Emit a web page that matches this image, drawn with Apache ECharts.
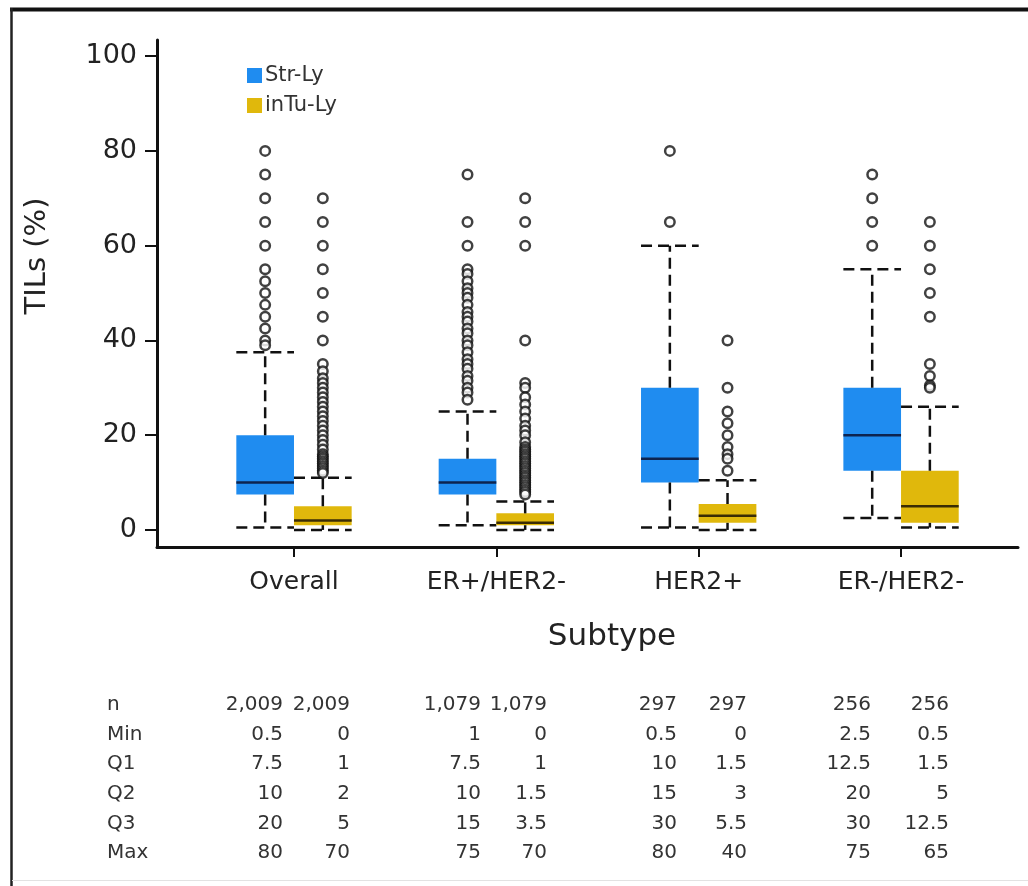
<!DOCTYPE html>
<html>
<head>
<meta charset="utf-8">
<title>TILs by subtype</title>
<script src="https://cdn.jsdelivr.net/npm/echarts@6/dist/echarts.min.js"></script>
<style>
  html, body { margin: 0; padding: 0; background: #fff; }
  #chart { width: 1028px; height: 886px; }
</style>
</head>
<body>
<div id="chart"></div>
<script>
// x axis groups
var subtypes = ['Overall', 'ER+/HER2-', 'HER2+', 'ER-/HER2-'];
var seriesNames = ['Str-Ly', 'inTu-Ly'];

// summary table, one value per subtype
var strN   = [2009, 1079, 297, 256];
var strMin = [0.5, 1, 0.5, 2.5];
var strQ1  = [7.5, 7.5, 10, 12.5];
var strQ2  = [10, 10, 15, 20];
var strQ3  = [20, 15, 30, 30];
var strMax = [80, 75, 80, 75];

var tuN   = [2009, 1079, 297, 256];
var tuMin = [0, 0, 0, 0.5];
var tuQ1  = [1, 1, 1.5, 1.5];
var tuQ2  = [2, 1.5, 3, 5];
var tuQ3  = [5, 3.5, 5.5, 12.5];
var tuMax = [70, 70, 40, 65];

// top of the upper whisker
var strUpper = [37.5, 25, 60, 55];
var tuUpper  = [11, 6, 10.5, 26];

// outliers
var strOutliers = [
  [80, 75, 70, 65, 60, 55, 52.5, 50, 47.5, 45, 42.5, 40, 39],
  [75, 65, 60, 55, 54, 52.5, 51, 50, 49, 47.5, 46, 45, 44, 42.5, 41.5, 40, 39, 37.5, 36, 35, 34, 32.5, 31.5, 30, 29, 27.5],
  [80, 65],
  [75, 70, 65, 60]
];
var tuOutliers = [
  [70, 65, 60, 55, 50, 45, 40, 35, 33.5, 32, 31, 30, 29, 28, 27, 26, 25, 24, 23, 22, 21, 20, 19, 18, 17, 16, 15.5, 15, 14.5, 14, 13.5, 13, 12.5, 12],
  [70, 65, 60, 40, 31, 30, 28, 26.5, 25, 23.5, 22, 21, 20, 18.5, 17.5, 17, 16.5, 16, 15.5, 15, 14.5, 14, 13.5, 13, 12.5, 12, 11.5, 11, 10.5, 10, 9.5, 9, 8.5, 8, 7.5],
  [40, 30, 25, 22.5, 20, 17.5, 16, 15, 12.5],
  [65, 60, 55, 50, 45, 35, 32.5, 30.5, 30]
];

var yTicks = [0, 20, 40, 60, 80, 100];
var groupTicks = [1, 2, 3, 4];

var BLUE = '#1f8cf0';
var GOLD = '#e0b80c';
var FONT = 'DejaVu Sans';
var BOX_W = 0.285; // box width in x-axis units

function boxRows(min, q1, q2, q3, upper) {
  return subtypes.map(function (s, i) {
    return [i + 1, min[i], q1[i], q2[i], q3[i], upper[i]];
  });
}

function outlierPoints(list, shift) {
  var pts = [];
  list.forEach(function (vals, i) {
    vals.forEach(function (v) { pts.push([i + 1 + shift, v]); });
  });
  return pts;
}

// side: -1 box left of the tick, 1 box right of it
function makeBox(side, fill, medColor) {
  return function (params, api) {
    var c = api.value(0);
    var x0 = side < 0 ? c - BOX_W : c;
    var x1 = x0 + BOX_W;
    var xm = (x0 + x1) / 2;
    var tl = api.coord([x0, api.value(4)]);
    var br = api.coord([x1, api.value(2)]);
    var med = api.coord([x0, api.value(3)]);
    var medR = api.coord([x1, api.value(3)]);
    var lo = api.coord([xm, api.value(1)]);
    var q1 = api.coord([xm, api.value(2)]);
    var q3 = api.coord([xm, api.value(4)]);
    var hi = api.coord([xm, api.value(5)]);
    var dash = { stroke: '#111', lineWidth: 2.5, lineDash: [11, 6] };
    return {
      type: 'group',
      children: [
        { type: 'rect', shape: { x: tl[0], y: tl[1], width: br[0] - tl[0], height: br[1] - tl[1] }, style: { fill: fill } },
        { type: 'line', shape: { x1: med[0], y1: med[1], x2: medR[0], y2: medR[1] }, style: { stroke: medColor, lineWidth: 2.5 } },
        { type: 'line', shape: { x1: q3[0], y1: q3[1], x2: hi[0], y2: hi[1] }, style: dash },
        { type: 'line', shape: { x1: q1[0], y1: q1[1], x2: lo[0], y2: lo[1] }, style: dash },
        { type: 'line', shape: { x1: tl[0], y1: hi[1], x2: br[0], y2: hi[1] }, style: dash },
        { type: 'line', shape: { x1: tl[0], y1: lo[1], x2: br[0], y2: lo[1] }, style: dash }
      ]
    };
  };
}

// table under the chart
var tableRows = [
  ['n', strN, tuN],
  ['Min', strMin, tuMin],
  ['Q1', strQ1, tuQ1],
  ['Q2', strQ2, tuQ2],
  ['Q3', strQ3, tuQ3],
  ['Max', strMax, tuMax]
];
var strCols = [283, 481, 677, 871];
var tuCols = [350, 547, 747, 949];

function fmt(v, row) {
  return row === 0 ? v.toLocaleString('en-US') : String(v);
}

var graphics = [
  { type: 'line', shape: { x1: 10, y1: 9.5, x2: 1028, y2: 9.5 }, style: { stroke: '#111', lineWidth: 4 } },
  { type: 'line', shape: { x1: 11.5, y1: 8, x2: 11.5, y2: 886 }, style: { stroke: '#222', lineWidth: 2.5 } },
  { type: 'line', shape: { x1: 12, y1: 880.5, x2: 1028, y2: 880.5 }, style: { stroke: '#e2e2e2', lineWidth: 1 } },
  { type: 'text', x: 37, y: 256, rotation: Math.PI / 2,
    style: { text: 'TILs (%)', fontSize: 29, fontFamily: FONT, fill: '#222', align: 'center', verticalAlign: 'middle' } },
  { type: 'text', x: 612, y: 637,
    style: { text: 'Subtype', fontSize: 31, fontFamily: FONT, fill: '#222', align: 'center', verticalAlign: 'middle' } }
];
tableRows.forEach(function (row, r) {
  var y = 705 + r * 29.6;
  graphics.push({ type: 'text', x: 107, y: y,
    style: { text: row[0], fontSize: 20, fontFamily: FONT, fill: '#333', align: 'left', verticalAlign: 'middle' } });
  subtypes.forEach(function (s, i) {
    graphics.push({ type: 'text', x: strCols[i], y: y,
      style: { text: fmt(row[1][i], r), fontSize: 20, fontFamily: FONT, fill: '#333', align: 'right', verticalAlign: 'middle' } });
    graphics.push({ type: 'text', x: tuCols[i], y: y,
      style: { text: fmt(row[2][i], r), fontSize: 20, fontFamily: FONT, fill: '#333', align: 'right', verticalAlign: 'middle' } });
  });
});

var chart = echarts.init(document.getElementById('chart'));
chart.setOption({
  animation: false,
  backgroundColor: '#fff',
  textStyle: { fontFamily: FONT },
  grid: { left: 157, right: 10, top: 40, bottom: 339 },
  legend: {
    data: seriesNames,
    orient: 'vertical',
    left: 242, top: 60,
    itemWidth: 15, itemHeight: 15, itemGap: 9,
    icon: 'rect',
    textStyle: { fontSize: 21, color: '#333', fontFamily: FONT, padding: [0, 0, 0, -2] }
  },
  xAxis: {
    type: 'value',
    min: 0.323, max: 4.578,
    splitLine: { show: false },
    axisLine: { show: true, onZero: false, lineStyle: { color: '#111', width: 3 } },
    axisTick: { show: true, customValues: groupTicks, length: 10, lineStyle: { color: '#111', width: 2 } },
    axisLabel: {
      customValues: groupTicks, margin: 23, fontSize: 25, color: '#222',
      formatter: function (v) { return subtypes[Math.round(v) - 1]; }
    }
  },
  yAxis: {
    type: 'value',
    min: -3.6, max: 103.4,
    splitLine: { show: false },
    axisLine: { show: true, onZero: false, lineStyle: { color: '#111', width: 3 } },
    axisTick: { show: true, customValues: yTicks, length: 12, lineStyle: { color: '#111', width: 2 } },
    axisLabel: { customValues: yTicks, margin: 20, fontSize: 27, color: '#222' }
  },
  series: [
    {
      name: 'Str-Ly', type: 'custom',
      itemStyle: { color: BLUE },
      renderItem: makeBox(-1, BLUE, '#0d2450'),
      encode: { x: 0, y: [1, 2, 3, 4, 5] },
      data: boxRows(strMin, strQ1, strQ2, strQ3, strUpper)
    },
    {
      name: 'inTu-Ly', type: 'custom',
      itemStyle: { color: GOLD },
      renderItem: makeBox(1, GOLD, '#3a2c04'),
      encode: { x: 0, y: [1, 2, 3, 4, 5] },
      data: boxRows(tuMin, tuQ1, tuQ2, tuQ3, tuUpper)
    },
    {
      name: 'Str-Ly outliers', type: 'scatter',
      symbol: 'circle', symbolSize: 9.5,
      itemStyle: { color: '#fff', borderColor: '#111', borderWidth: 2.5 },
      data: outlierPoints(strOutliers, -BOX_W / 2)
    },
    {
      name: 'inTu-Ly outliers', type: 'scatter',
      symbol: 'circle', symbolSize: 9.5,
      itemStyle: { color: '#fff', borderColor: '#111', borderWidth: 2.5 },
      data: outlierPoints(tuOutliers, BOX_W / 2)
    }
  ],
  graphic: graphics
});
</script>
</body>
</html>
